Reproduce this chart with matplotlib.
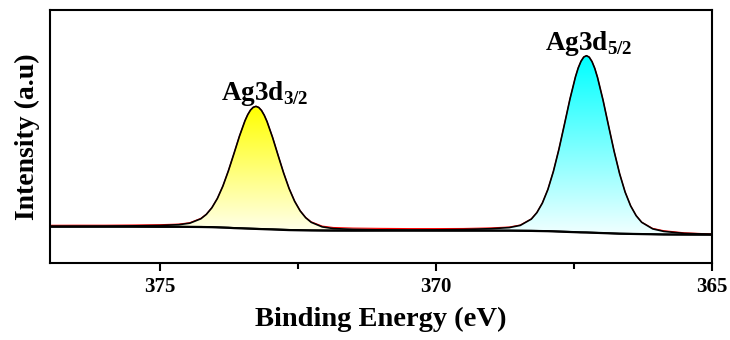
import numpy as np
import matplotlib
matplotlib.use("Agg")
import matplotlib.pyplot as plt
from matplotlib.colors import LinearSegmentedColormap
from matplotlib.patches import Polygon

# binding energy grid (eV)
energy = [377.0, 376.5, 376.0, 375.5, 375.0, 374.66, 374.46, 374.26, 374.16, 374.06,
          373.96, 373.86, 373.76, 373.66, 373.56, 373.46, 373.41, 373.36, 373.31, 373.26,
          373.21, 373.16, 373.11, 373.06, 372.96, 372.86, 372.76, 372.66, 372.56, 372.46,
          372.36, 372.26, 372.06, 371.86, 371.5, 371.0, 370.5, 370.0, 369.5, 369.0,
          368.67, 368.47, 368.27, 368.17, 368.07, 367.97, 367.87, 367.77, 367.67, 367.57,
          367.47, 367.42, 367.37, 367.32, 367.27, 367.22, 367.17, 367.12, 367.07, 366.97,
          366.87, 366.77, 366.67, 366.57, 366.47, 366.37, 366.27, 366.07, 365.87, 365.5,
          365.0]

# shirley background (a.u.)
background = [36.3, 36.3, 36.3, 36.3, 36.2, 36.2, 36.1, 36.0, 35.9, 35.8,
              35.6, 35.4, 35.2, 34.9, 34.7, 34.5, 34.4, 34.3, 34.2, 34.1,
              34.0, 33.9, 33.8, 33.7, 33.5, 33.3, 33.1, 32.9, 32.8, 32.7,
              32.6, 32.5, 32.4, 32.35, 32.3, 32.3, 32.3, 32.3, 32.3, 32.3,
              32.3, 32.2, 32.1, 32.0, 31.9, 31.8, 31.6, 31.4, 31.2, 31.0,
              30.8, 30.7, 30.6, 30.55, 30.5, 30.4, 30.3, 30.2, 30.1, 29.9,
              29.7, 29.5, 29.3, 29.2, 29.1, 29.0, 28.9, 28.7, 28.5, 28.4,
              28.3]

# fitted components above the background
ag3d32 = [0.3, 0.4, 0.5, 0.8, 1.3, 2.1, 3.7, 8.2, 12.7, 19.4,
          28.9, 41.5, 57.0, 74.4, 92.1, 107.7, 113.9, 118.6, 121.5, 122.5,
          121.5, 118.6, 113.9, 107.7, 92.1, 74.4, 57.0, 41.5, 28.9, 19.4,
          12.7, 8.2, 3.7, 2.1, 1.3, 0.8, 0.5, 0.4, 0.3, 0.3,
          0.2, 0.2, 0.2, 0.2, 0.2, 0.2, 0.2, 0.2, 0.2, 0.2,
          0.1, 0.1, 0.1, 0.1, 0.1, 0.1, 0.1, 0.1, 0.1, 0.1,
          0.1, 0.1, 0.1, 0.1, 0.1, 0.1, 0.1, 0.1, 0.1, 0.1,
          0.1]
ag3d52 = [0.1, 0.1, 0.1, 0.1, 0.1, 0.1, 0.1, 0.2, 0.2, 0.2,
          0.2, 0.2, 0.2, 0.2, 0.2, 0.2, 0.2, 0.2, 0.2, 0.2,
          0.2, 0.2, 0.2, 0.2, 0.3, 0.3, 0.3, 0.3, 0.3, 0.3,
          0.3, 0.3, 0.3, 0.3, 0.4, 0.5, 0.6, 0.8, 1.2, 2.0,
          3.1, 5.4, 11.8, 18.3, 28.0, 41.7, 60.0, 82.3, 107.4, 132.9,
          155.4, 164.4, 171.1, 175.4, 176.8, 175.4, 171.1, 164.4, 155.4, 132.9,
          107.4, 82.3, 60.0, 41.7, 28.0, 18.3, 11.8, 5.4, 3.1, 1.2,
          0.4]

# measured spectrum
raw = [37.7, 37.8, 37.8, 38.0, 38.3, 38.9, 40.3, 44.6, 48.8, 55.4,
       64.7, 77.1, 92.4, 109.5, 127.0, 142.4, 148.5, 153.1, 155.9, 156.8,
       155.7, 152.7, 147.9, 141.6, 125.9, 108.0, 90.4, 74.7, 62.0, 52.4,
       45.6, 41.2, 36.9, 35.5, 34.9, 34.6, 34.4, 34.4, 34.5, 35.1,
       36.0, 38.0, 44.1, 50.5, 60.1, 73.7, 91.8, 113.9, 138.8, 164.1,
       186.3, 195.2, 201.8, 206.1, 207.4, 205.9, 201.5, 194.7, 185.6, 162.9,
       137.2, 111.9, 89.4, 71.0, 57.2, 47.4, 40.8, 34.6, 32.3, 30.2,
       29.0]

peak_labels = ['Ag3d$_{\\mathregular{3/2}}$', 'Ag3d$_{\\mathregular{5/2}}$']
label_pos = [(373.9, 163), (368.02, 213)]

plt.rcParams['font.family'] = 'Liberation Serif'
plt.rcParams['font.weight'] = 'bold'
plt.rcParams['mathtext.fontset'] = 'custom'
plt.rcParams['mathtext.rm'] = 'Liberation Serif:bold'
plt.rcParams['mathtext.bf'] = 'Liberation Serif:bold'

E = np.array(energy)
bg = np.array(background)

fig = plt.figure(figsize=(7.3, 3.4), dpi=100)
ax = fig.add_axes([0.068, 0.2265, 0.907, 0.7455])

ax.plot(E, raw, color='red', lw=0.8, zorder=2)

def gradient_peak(comp, top_color, bottom_color):
    top = bg + np.array(comp)
    verts = list(zip(E, top)) + list(zip(E[::-1], bg[::-1]))
    patch = Polygon(verts, closed=True, facecolor='none', edgecolor='none')
    ax.add_patch(patch)
    cmap = LinearSegmentedColormap.from_list('g', [bottom_color, top_color])
    grad = np.linspace(0, 1, 256).reshape(-1, 1)
    im = ax.imshow(grad, cmap=cmap, aspect='auto', origin='lower',
                   extent=(E.max(), E.min(), bg.min(), top.max()), zorder=1)
    im.set_clip_path(patch)
    ax.plot(E, top, color='black', lw=1.2, zorder=3)

gradient_peak(ag3d32, '#ffff00', '#fffff2')
gradient_peak(ag3d52, '#00ffff', '#f2ffff')

ax.plot(E, bg, color='black', lw=1.6, zorder=4)

for txt, (x, y) in zip(peak_labels, label_pos):
    ax.text(x, y, txt, fontsize=19.5, fontweight='bold', ha='left', va='baseline')

ax.set_xlim(377, 365)
ax.set_ylim(0, 253.5)
ax.set_xticks([375, 370, 365])
ax.set_xticks([372.5, 367.5], minor=True)
ax.set_yticks([])
ax.tick_params(axis='x', which='major', direction='out', length=6, width=1.5,
               labelsize=15, pad=4)
ax.tick_params(axis='x', which='minor', direction='out', length=4, width=1.5)
for s in ax.spines.values():
    s.set_linewidth(1.5)

ax.set_xlabel('Binding Energy (eV)', fontsize=20.5, fontweight='bold', labelpad=7)
ax.set_ylabel('Intensity (a.u)', fontsize=20, fontweight='bold', labelpad=7)

fig.savefig('out.png', dpi=100)
